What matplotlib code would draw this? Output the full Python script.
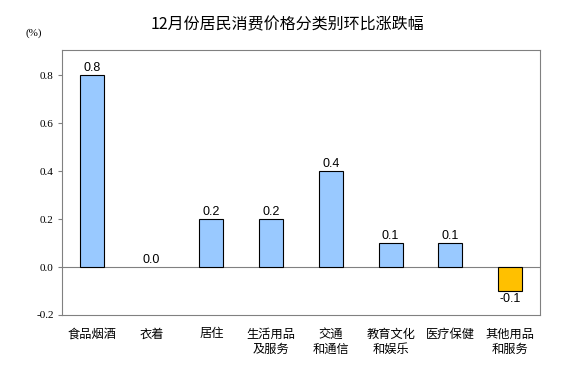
import matplotlib.pyplot as plt

plt.rcParams['font.family'] = ['Liberation Sans', 'Noto Sans CJK SC', 'DejaVu Sans']

categories = ['食品烟酒', '衣着', '居住', '生活用品\n及服务', '交通\n和通信',
              '教育文化\n和娱乐', '医疗保健', '其他用品\n和服务']
values = [0.8, 0.0, 0.2, 0.2, 0.4, 0.1, 0.1, -0.1]
value_labels = ['0.8', '0.0', '0.2', '0.2', '0.4', '0.1', '0.1', '-0.1']
yticks = [-0.2, 0.0, 0.2, 0.4, 0.6, 0.8]

fig = plt.figure(figsize=(5.75, 3.8), dpi=100)
ax = fig.add_axes([62 / 575, 1 - 315 / 380, 478 / 575, 265 / 380])

x = list(range(len(categories)))
colors = ['#FFC000' if v < 0 else '#99C9FF' for v in values]
edges = ['none' if v == 0 else 'black' for v in values]
ax.bar(x, values, width=0.4, color=colors, edgecolor=edges, linewidth=0.8, zorder=2)

for xi, v, lab in zip(x, values, value_labels):
    if v < 0:
        ax.text(xi, v - 0.01, lab, ha='center', va='top', fontsize=9)
    else:
        ax.text(xi, v + 0.005, lab, ha='center', va='bottom', fontsize=9)

ax.axhline(0, color='#808080', linewidth=0.8, zorder=1)
ax.set_xlim(-0.5, len(categories) - 0.5)
ax.set_ylim(-0.2, 0.905)
ax.set_yticks(yticks)
ax.set_yticklabels([f'{t:.1f}' for t in yticks], fontsize=8,
                   family=['Liberation Serif', 'DejaVu Serif'])
ax.set_xticks(x)
ax.set_xticklabels(categories, fontsize=8.8, family=['Noto Sans CJK SC', 'DejaVu Sans'],
                   linespacing=1.25)
ax.tick_params(axis='x', length=0, pad=9)
ax.tick_params(axis='y', length=3, width=0.8, color='#808080', pad=3)
for s in ax.spines.values():
    s.set_color('#808080')
    s.set_linewidth(0.8)

fig.text(0.5, 0.934, '12月份居民消费价格分类别环比涨跌幅', ha='center', va='center',
         fontsize=11.5, family=['Noto Sans CJK SC', 'DejaVu Sans'])
fig.text(0.058, 0.912, '(%)', ha='center', va='center', fontsize=8,
         family=['Liberation Serif', 'DejaVu Serif'])

fig.savefig('out.png', dpi=100)
